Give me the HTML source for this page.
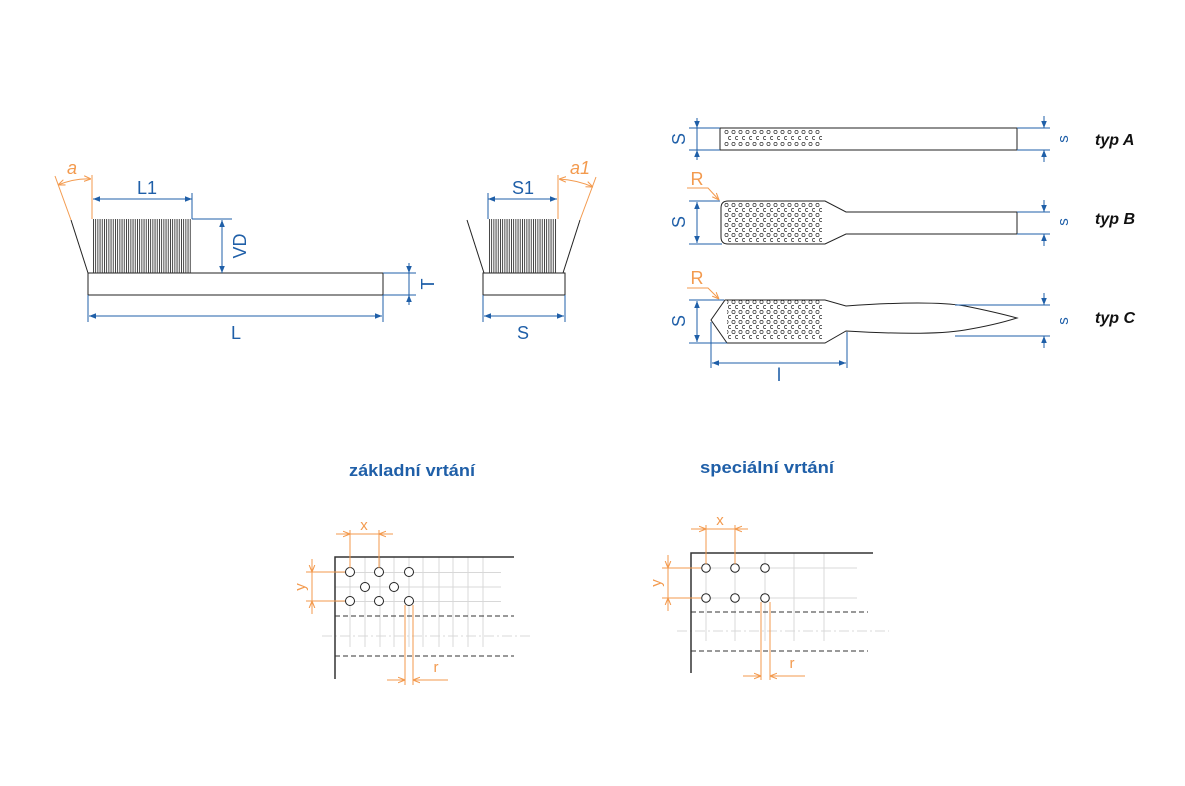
<!DOCTYPE html>
<html><head><meta charset="utf-8"><style>body{margin:0;background:#fff}svg{display:block}</style></head><body>
<svg width="1185" height="786" viewBox="0 0 1185 786" xmlns="http://www.w3.org/2000/svg" font-family="Liberation Sans, sans-serif">
<defs>
<marker id="ab" viewBox="0 0 10 10" refX="10" refY="5" markerWidth="7" markerHeight="7" orient="auto-start-reverse"><path d="M0,1 L10,5 L0,9 Z" fill="#1f5fa8"/></marker>
<marker id="ao" viewBox="0 0 10 10" refX="10" refY="5" markerWidth="7" markerHeight="7" orient="auto-start-reverse"><path d="M0,1 L10,5 L0,9" fill="none" stroke="#f39a4e" stroke-width="1.5"/></marker>
<pattern id="br" x="93" y="0" width="2.2" height="10" patternUnits="userSpaceOnUse"><rect x="0" y="0" width="0.9" height="10" fill="#333"/></pattern>
<pattern id="holesA" x="724" y="129.5" width="7" height="12" patternUnits="userSpaceOnUse"><circle cx="2.5" cy="2.5" r="1.6" fill="none" stroke="#333" stroke-width="0.7"/><circle cx="6" cy="8.5" r="1.6" fill="none" stroke="#333" stroke-width="0.7"/></pattern>
<pattern id="holesB" x="724" y="202" width="7" height="10" patternUnits="userSpaceOnUse"><circle cx="2.5" cy="3" r="1.6" fill="none" stroke="#333" stroke-width="0.7"/><circle cx="6" cy="8" r="1.6" fill="none" stroke="#333" stroke-width="0.7"/></pattern>
<pattern id="holesC" x="724" y="299" width="7" height="10" patternUnits="userSpaceOnUse"><circle cx="2.5" cy="3" r="1.6" fill="none" stroke="#333" stroke-width="0.7"/><circle cx="6" cy="8" r="1.6" fill="none" stroke="#333" stroke-width="0.7"/></pattern>
</defs>
<g fill="none" stroke-width="1">
<!-- left brush -->
<rect x="88" y="273" width="295" height="22" stroke="#222"/>
<rect x="93" y="219" width="99" height="54" fill="url(#br)" stroke="none"/>
<line x1="71" y1="220" x2="88" y2="273" stroke="#222"/>
<line x1="55" y1="176" x2="71" y2="220" stroke="#f39a4e"/>
<line x1="92" y1="175" x2="92" y2="219" stroke="#f39a4e"/>
<path d="M58,185 Q75,178 91,179" stroke="#f39a4e" marker-start="url(#ao)" marker-end="url(#ao)"/>
<line x1="192" y1="193" x2="192" y2="219" stroke="#1f5fa8"/>
<line x1="93" y1="199" x2="192" y2="199" stroke="#1f5fa8" marker-start="url(#ab)" marker-end="url(#ab)"/>
<line x1="192" y1="219" x2="232" y2="219" stroke="#1f5fa8"/>
<line x1="222" y1="220" x2="222" y2="273" stroke="#1f5fa8" marker-start="url(#ab)" marker-end="url(#ab)"/>
<line x1="383" y1="273" x2="416" y2="273" stroke="#1f5fa8"/>
<line x1="383" y1="295" x2="416" y2="295" stroke="#1f5fa8"/>
<line x1="409" y1="263" x2="409" y2="273" stroke="#1f5fa8" marker-end="url(#ab)"/>
<line x1="409" y1="305" x2="409" y2="295" stroke="#1f5fa8" marker-end="url(#ab)"/>
<line x1="409" y1="273" x2="409" y2="295" stroke="#1f5fa8"/>
<line x1="88" y1="295" x2="88" y2="322" stroke="#1f5fa8"/>
<line x1="383" y1="295" x2="383" y2="322" stroke="#1f5fa8"/>
<line x1="89" y1="316" x2="382" y2="316" stroke="#1f5fa8" marker-start="url(#ab)" marker-end="url(#ab)"/>
<!-- right brush -->
<rect x="483" y="273" width="82" height="22" stroke="#222"/>
<rect x="488" y="219" width="69" height="54" fill="url(#br)" stroke="none"/>
<line x1="467" y1="220" x2="484" y2="273" stroke="#222"/>
<line x1="580" y1="220" x2="563" y2="273" stroke="#222"/>
<line x1="580" y1="220" x2="596" y2="177" stroke="#f39a4e"/>
<line x1="558" y1="175" x2="558" y2="219" stroke="#f39a4e"/>
<path d="M559,179 Q577,180 593,187" stroke="#f39a4e" marker-start="url(#ao)" marker-end="url(#ao)"/>
<line x1="488" y1="193" x2="488" y2="219" stroke="#1f5fa8"/>
<line x1="488" y1="199" x2="557" y2="199" stroke="#1f5fa8" marker-start="url(#ab)" marker-end="url(#ab)"/>
<line x1="483" y1="295" x2="483" y2="322" stroke="#1f5fa8"/>
<line x1="565" y1="295" x2="565" y2="322" stroke="#1f5fa8"/>
<line x1="484" y1="316" x2="564" y2="316" stroke="#1f5fa8" marker-start="url(#ab)" marker-end="url(#ab)"/>

<!-- typ A -->
<rect x="720" y="128" width="297" height="22" stroke="#222"/>
<rect x="724" y="129.5" width="98" height="18" fill="url(#holesA)" stroke="none"/>
<line x1="689" y1="128" x2="720" y2="128" stroke="#1f5fa8"/><line x1="689" y1="150" x2="720" y2="150" stroke="#1f5fa8"/>
<line x1="697" y1="118" x2="697" y2="128" stroke="#1f5fa8" marker-end="url(#ab)"/><line x1="697" y1="160" x2="697" y2="150" stroke="#1f5fa8" marker-end="url(#ab)"/><line x1="697" y1="128" x2="697" y2="150" stroke="#1f5fa8"/>
<line x1="1017" y1="128" x2="1050" y2="128" stroke="#1f5fa8"/><line x1="1017" y1="150" x2="1050" y2="150" stroke="#1f5fa8"/>
<line x1="1044" y1="116" x2="1044" y2="128" stroke="#1f5fa8" marker-end="url(#ab)"/><line x1="1044" y1="162" x2="1044" y2="150" stroke="#1f5fa8" marker-end="url(#ab)"/>
<!-- typ B -->
<path d="M728,201 L825,201 L846,212 L1017,212 L1017,234 L846,234 L825,244 L728,244 Q721,244 721,237 L721,208 Q721,201 728,201 Z" stroke="#222"/>
<rect x="724" y="202" width="98" height="40" fill="url(#holesB)" stroke="none"/>
<line x1="689" y1="201" x2="720" y2="201" stroke="#1f5fa8"/><line x1="689" y1="244" x2="722" y2="244" stroke="#1f5fa8"/>
<line x1="697" y1="202" x2="697" y2="243" stroke="#1f5fa8" marker-start="url(#ab)" marker-end="url(#ab)"/>
<line x1="1017" y1="212" x2="1050" y2="212" stroke="#1f5fa8"/><line x1="1017" y1="234" x2="1050" y2="234" stroke="#1f5fa8"/>
<line x1="1044" y1="200" x2="1044" y2="212" stroke="#1f5fa8" marker-end="url(#ab)"/><line x1="1044" y1="246" x2="1044" y2="234" stroke="#1f5fa8" marker-end="url(#ab)"/>
<path d="M687,188 L708,188 L719,200" stroke="#f39a4e" marker-end="url(#ao)"/>
<!-- typ C -->
<path d="M725,300 L825,300 L846,306 Q930,300 965,306 Q995,312 1017,318 Q995,325 965,330 Q930,336 846,331 L825,343 L727,343 L711,320 L725,300 Z" stroke="#222"/>
<rect x="727" y="299" width="95" height="40" fill="url(#holesC)" stroke="none"/>
<line x1="689" y1="300" x2="724" y2="300" stroke="#1f5fa8"/><line x1="689" y1="343" x2="727" y2="343" stroke="#1f5fa8"/>
<line x1="697" y1="301" x2="697" y2="342" stroke="#1f5fa8" marker-start="url(#ab)" marker-end="url(#ab)"/>
<line x1="955" y1="305" x2="1050" y2="305" stroke="#1f5fa8"/><line x1="955" y1="336" x2="1050" y2="336" stroke="#1f5fa8"/>
<line x1="1044" y1="293" x2="1044" y2="305" stroke="#1f5fa8" marker-end="url(#ab)"/><line x1="1044" y1="348" x2="1044" y2="336" stroke="#1f5fa8" marker-end="url(#ab)"/>
<path d="M687,288 L708,288 L719,299" stroke="#f39a4e" marker-end="url(#ao)"/>
<line x1="711" y1="322" x2="711" y2="368" stroke="#1f5fa8"/><line x1="847" y1="332" x2="847" y2="368" stroke="#1f5fa8"/>
<line x1="712" y1="363" x2="846" y2="363" stroke="#1f5fa8" marker-start="url(#ab)" marker-end="url(#ab)"/>

<!-- left grid -->
<g stroke="#d8d8d8">
<path d="M350,557V647M365,557V647M380,557V647M394,557V647M409,557V647M423,557V647M439,557V647M453,557V647M468,557V647M483,557V647"/>
<path d="M335,572.5H501M335,587H501M335,601.5H501"/>
<line x1="322" y1="636" x2="533" y2="636" stroke-dasharray="10,3,2,3"/>
</g>
<path d="M335,679V557H514" stroke="#333" stroke-width="1.5"/>
<path d="M335,616H514M335,656H514" stroke="#333" stroke-dasharray="5,3"/>
<g stroke="#222" fill="#fff"><circle cx="350" cy="572" r="4.5"/><circle cx="379" cy="572" r="4.5"/><circle cx="409" cy="572" r="4.5"/><circle cx="365" cy="587" r="4.5"/><circle cx="394" cy="587" r="4.5"/><circle cx="350" cy="601" r="4.5"/><circle cx="379" cy="601" r="4.5"/><circle cx="409" cy="601" r="4.5"/></g>
<g stroke="#f39a4e">
<path d="M350,530V568M379,530V568M306,572H345M306,601H345M405,605V685M413,605V685"/>
<line x1="336" y1="534" x2="350" y2="534" marker-end="url(#ao)"/><line x1="393" y1="534" x2="379" y2="534" marker-end="url(#ao)"/><line x1="350" y1="534" x2="379" y2="534"/>
<line x1="312" y1="559" x2="312" y2="572" marker-end="url(#ao)"/><line x1="312" y1="614" x2="312" y2="601" marker-end="url(#ao)"/><line x1="312" y1="572" x2="312" y2="601"/>
<line x1="387" y1="680" x2="405" y2="680" marker-end="url(#ao)"/><line x1="448" y1="680" x2="413" y2="680" marker-end="url(#ao)"/>
</g>
<!-- right grid -->
<g stroke="#d8d8d8">
<path d="M706,553V641M735,553V641M765,553V641M794,553V641M824,553V641"/>
<path d="M691,568H857M691,598H857"/>
<line x1="677" y1="631" x2="889" y2="631" stroke-dasharray="10,3,2,3"/>
</g>
<path d="M691,673V553H873" stroke="#333" stroke-width="1.5"/>
<path d="M691,612H868M691,651H868" stroke="#333" stroke-dasharray="5,3"/>
<g stroke="#222" fill="#fff"><circle cx="706" cy="568" r="4.3"/><circle cx="735" cy="568" r="4.3"/><circle cx="765" cy="568" r="4.3"/><circle cx="706" cy="598" r="4.3"/><circle cx="735" cy="598" r="4.3"/><circle cx="765" cy="598" r="4.3"/></g>
<g stroke="#f39a4e">
<path d="M706,525V564M735,525V564M662,568H701M662,598H701M761,602V680M770,602V680"/>
<line x1="691" y1="529" x2="706" y2="529" marker-end="url(#ao)"/><line x1="748" y1="529" x2="735" y2="529" marker-end="url(#ao)"/><line x1="706" y1="529" x2="735" y2="529"/>
<line x1="668" y1="555" x2="668" y2="568" marker-end="url(#ao)"/><line x1="668" y1="611" x2="668" y2="598" marker-end="url(#ao)"/><line x1="668" y1="568" x2="668" y2="598"/>
<line x1="743" y1="676" x2="761" y2="676" marker-end="url(#ao)"/><line x1="805" y1="676" x2="770" y2="676" marker-end="url(#ao)"/>
</g>
</g>
<!-- text -->
<g fill="#1f5fa8" font-size="18" text-anchor="middle">
<text x="147" y="194">L1</text><text x="236" y="339">L</text><text x="523" y="194">S1</text><text x="523" y="339">S</text>
<text transform="translate(246,246) rotate(-90)">VD</text>
<text transform="translate(434,284) rotate(-90)">T</text>
<text transform="translate(685,139) rotate(-90)">S</text>
<text transform="translate(685,222) rotate(-90)">S</text>
<text transform="translate(685,321) rotate(-90)">S</text>
<text x="779" y="381">l</text>
<g font-size="15"><text transform="translate(1068,139) rotate(-90)">s</text><text transform="translate(1068,222) rotate(-90)">s</text><text transform="translate(1068,321) rotate(-90)">s</text></g>
</g>
<g fill="#f39a4e" font-size="18" text-anchor="middle">
<text x="72" y="174" font-style="italic">a</text><text x="580" y="174" font-style="italic">a1</text>
<text x="697" y="185">R</text><text x="697" y="284">R</text>
<g font-size="15"><text x="364" y="530">x</text><text x="720" y="525">x</text><text x="436" y="672">r</text><text x="792" y="668">r</text>
<text transform="translate(305,587) rotate(-90)">y</text><text transform="translate(661,583) rotate(-90)">y</text></g>
</g>
<g font-size="16" font-weight="bold" font-style="italic" fill="#111">
<text x="1095" y="145">typ A</text><text x="1095" y="224">typ B</text><text x="1095" y="323">typ C</text>
</g>
<g font-size="17" font-weight="bold" fill="#1f5fa8" text-anchor="middle">
<text x="412" y="476" textLength="126" lengthAdjust="spacingAndGlyphs">základní vrtání</text>
<text x="767" y="473" textLength="134" lengthAdjust="spacingAndGlyphs">speciální vrtání</text>
</g>
</svg>
</body></html>
